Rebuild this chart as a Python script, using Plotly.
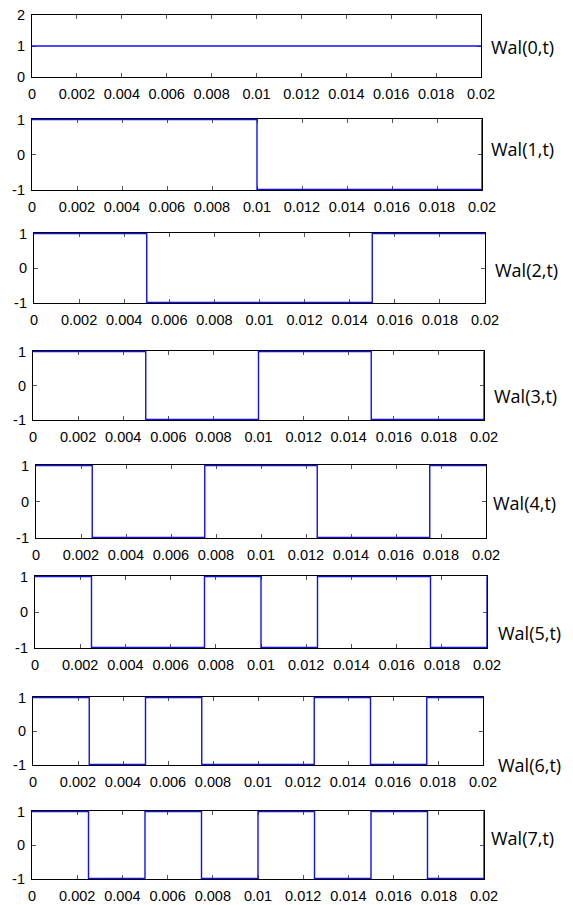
import plotly.graph_objects as go

# ---- data ----
t_breaks = [0, 0.0025, 0.005, 0.0075, 0.01, 0.0125, 0.015, 0.0175, 0.02]
wal0 = [1, 1, 1, 1, 1, 1, 1, 1]
wal1 = [1, 1, 1, 1, -1, -1, -1, -1]
wal2 = [1, 1, -1, -1, -1, -1, 1, 1]
wal3 = [1, 1, -1, -1, 1, 1, -1, -1]
wal4 = [1, -1, -1, 1, 1, -1, -1, 1]
wal5 = [1, -1, -1, 1, -1, 1, 1, -1]
wal6 = [1, -1, 1, -1, -1, 1, -1, 1]
wal7 = [1, -1, 1, -1, 1, -1, 1, -1]
series = [wal0, wal1, wal2, wal3, wal4, wal5, wal6, wal7]
end_value = 1  # periodic continuation at t = 0.02
labels = ["Wal(0,t)", "Wal(1,t)", "Wal(2,t)", "Wal(3,t)",
          "Wal(4,t)", "Wal(5,t)", "Wal(6,t)", "Wal(7,t)"]
x_tickvals = [0, 0.002, 0.004, 0.006, 0.008, 0.01, 0.012, 0.014, 0.016, 0.018, 0.02]
x_ticktext = ["0", "0.002", "0.004", "0.006", "0.008", "0.01", "0.012",
              "0.014", "0.016", "0.018", "0.02"]
y_tickvals_first = [0, 1, 2]
y_tickvals = [-1, 0, 1]

# ---- layout geometry (pixels) ----
W, H = 573, 905
panels = [  # left, right, top, bottom
    (32, 481, 15, 77),
    (32, 482, 119, 190),
    (34, 485, 233, 303),
    (33, 484, 351, 420),
    (36, 486, 465, 538),
    (35, 487, 576, 648),
    (33, 483, 697, 765),
    (32, 484, 811, 879),
]
label_pos = [  # x, y (pixels)
    (489, 47), (489, 149), (493, 270), (492, 396),
    (491, 503), (496, 633), (496, 765), (489, 838),
]

tick_font = dict(family="Liberation Sans, Arial, sans-serif", size=14.5, color="black")

fig = go.Figure()
layout = dict(width=W, height=H,
              margin=dict(l=0, r=0, t=0, b=0, pad=0, autoexpand=False),
              paper_bgcolor="white", plot_bgcolor="white", showlegend=False)
annotations = []

for i, vals in enumerate(series):
    n = i + 1
    xa = "x" if n == 1 else f"x{n}"
    ya = "y" if n == 1 else f"y{n}"
    fig.add_trace(go.Scatter(
        x=t_breaks, y=vals + [end_value], mode="lines",
        line=dict(color="#1010ee", width=1.4, shape="hv"),
        xaxis=xa, yaxis=ya, hoverinfo="skip"))
    l, r, t, b = panels[i]
    if i == 0:
        yr = [0 - 0.012, 2 + 0.012]
        ytv = y_tickvals_first
    else:
        yr = [-1 - 0.015, 1 + 0.015]
        ytv = y_tickvals
    common = dict(showline=True, linecolor="black", linewidth=1.2, mirror="ticks",
                  ticks="inside", ticklen=4, tickcolor="#555555", tickwidth=1,
                  showgrid=False, zeroline=False, tickfont=tick_font,
                  layer="below traces", fixedrange=True, automargin=False)
    layout["xaxis" if n == 1 else f"xaxis{n}"] = dict(
        domain=[l / W, r / W], anchor=ya, range=[0, 0.02],
        tickvals=x_tickvals, ticktext=x_ticktext, ticklabelstandoff=3, **common)
    layout["yaxis" if n == 1 else f"yaxis{n}"] = dict(
        domain=[1 - b / H, 1 - t / H], anchor=xa, range=yr,
        tickvals=ytv, ticktext=[str(v) for v in ytv], ticklabelstandoff=3, **common)
    lx, ly = label_pos[i]
    annotations.append(dict(
        text=labels[i], x=lx / W, y=1 - ly / H, xref="paper", yref="paper",
        xanchor="left", yanchor="middle", showarrow=False,
        font=dict(family="Open Sans, Noto Sans, Liberation Sans", size=18, color="black")))

layout["annotations"] = annotations
fig.update_layout(**layout)
fig.write_html("out.html", config={"displayModeBar": False},
               post_script="document.body.style.margin='0';"
                           "document.body.style.overflow='hidden';")
